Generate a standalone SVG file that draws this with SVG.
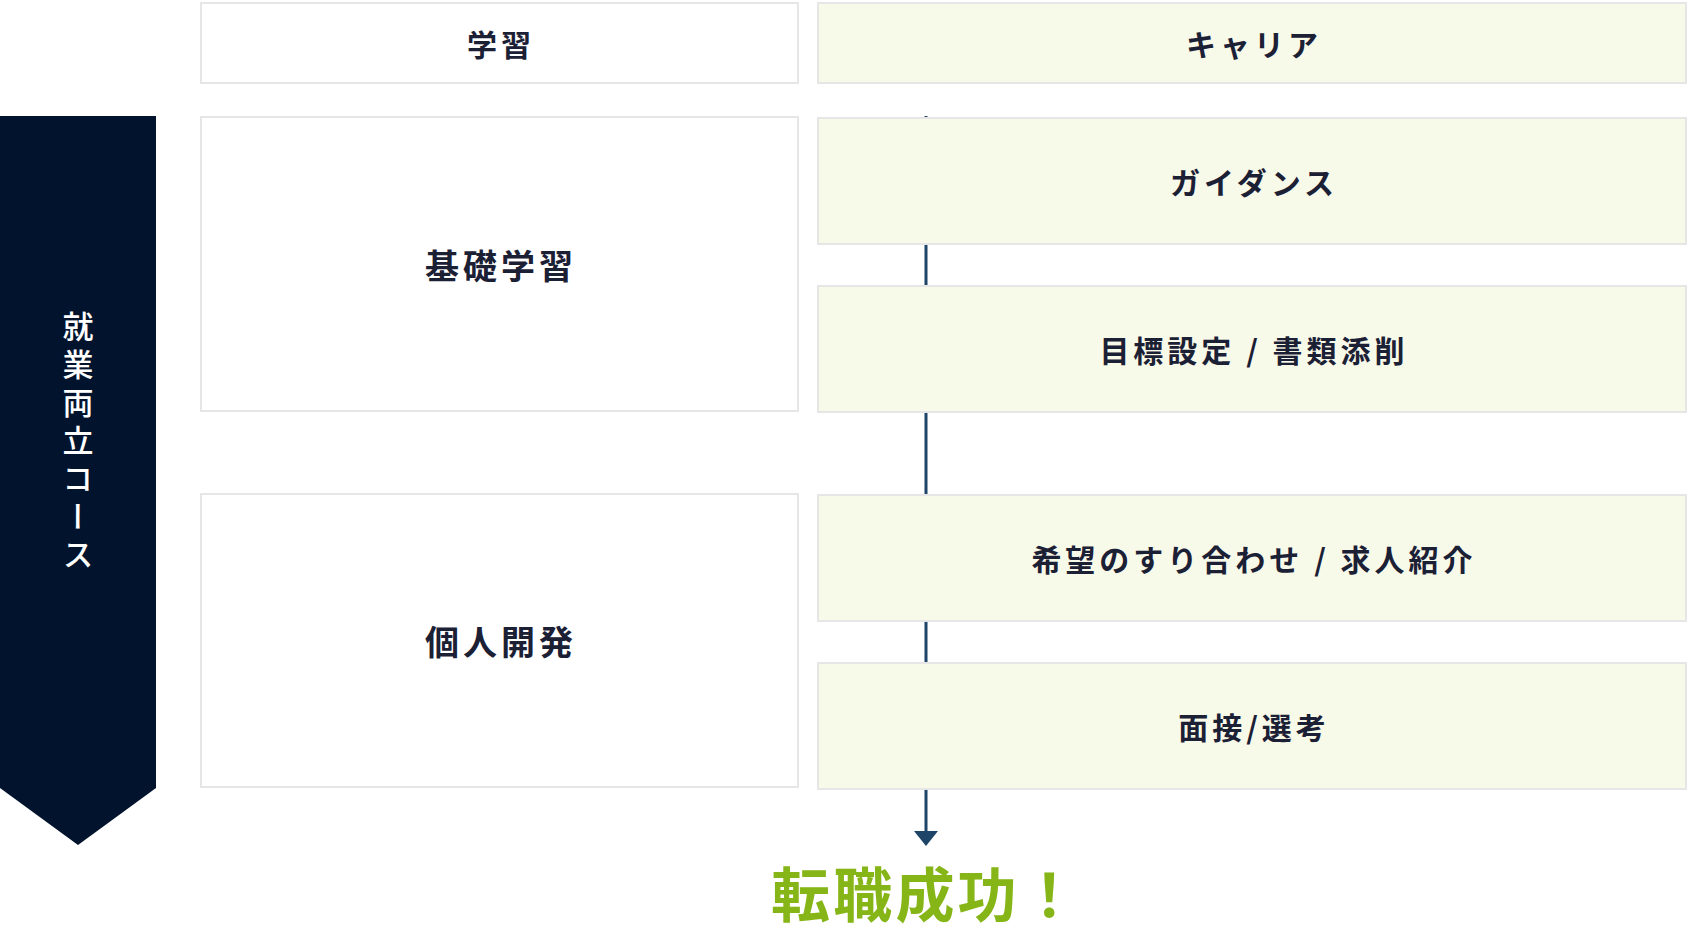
<svg xmlns="http://www.w3.org/2000/svg" width="1688" height="934" viewBox="0 0 1688 934">
<style>
  .t { font-family: "Noto Sans CJK JP", "Noto Sans", sans-serif; font-weight: 700; fill: #1b2035; dominant-baseline: central; text-anchor: middle; }
  .s30 { font-size: 30px; letter-spacing: 4px; }
  .s34 { font-size: 34px; letter-spacing: 4px; }
  .w { fill: #ffffff; stroke: #e6e6e6; stroke-width: 2; }
  .g { fill: #f7f9e9; stroke: #e6e6e6; stroke-width: 2; }
  .flow { stroke: #1e4468; stroke-width: 3; fill: none; }
</style>
<defs>
  <marker id="arrow" markerUnits="userSpaceOnUse" markerWidth="16" markerHeight="26" viewBox="0 -13 16 26" refX="0" refY="0" orient="auto">
    <path d="M0,-12 L15,0 L0,12 z" fill="#1e4468"/>
  </marker>
</defs>
<rect x="0" y="0" width="1688" height="934" fill="#ffffff"/>

<g id="course">
  <polygon points="0,116 156,116 156,788 78,845 0,788" fill="#02142d"/>
  <text x="78" y="311" font-family="'Noto Sans CJK JP', 'Noto Sans', sans-serif" font-weight="500" font-size="31" letter-spacing="7" fill="#ffffff" style="writing-mode: vertical-rl;">就業両立コース</text>
</g>

<g id="connectors">
  <line class="flow" x1="926" y1="116" x2="926" y2="831" marker-end="url(#arrow)"/>
</g>

<g id="header-study">
  <rect class="w" x="201" y="3" width="597" height="80"/>
  <text class="t s30" x="501" y="43">学習</text>
</g>
<g id="header-career">
  <rect class="g" x="818" y="3" width="868" height="80"/>
  <text class="t s30" x="1254" y="43">キャリア</text>
</g>
<g id="basic">
  <rect class="w" x="201" y="117" width="597" height="294"/>
  <text class="t s34" x="501" y="264">基礎学習</text>
</g>
<g id="personal">
  <rect class="w" x="201" y="494" width="597" height="293"/>
  <text class="t s34" x="501" y="640">個人開発</text>
</g>
<g id="guidance">
  <rect class="g" x="818" y="118" width="868" height="126"/>
  <text class="t s30" x="1254" y="181">ガイダンス</text>
</g>
<g id="goal">
  <rect class="g" x="818" y="286" width="868" height="126"/>
  <text class="t s30" x="1254" y="349">目標設定 / 書類添削</text>
</g>
<g id="matching">
  <rect class="g" x="818" y="495" width="868" height="126"/>
  <text class="t s30" x="1254" y="558">希望のすり合わせ / 求人紹介</text>
</g>
<g id="interview">
  <rect class="g" x="818" y="663" width="868" height="126"/>
  <text class="t s30" x="1254" y="726">面接/選考</text>
</g>
<g id="success">
  <text x="771" y="891" font-family="'Noto Sans CJK JP', 'Noto Sans', sans-serif" font-weight="700" font-size="59" letter-spacing="3.2" fill="#86b518" dominant-baseline="central">転職成功！</text>
</g>
</svg>
